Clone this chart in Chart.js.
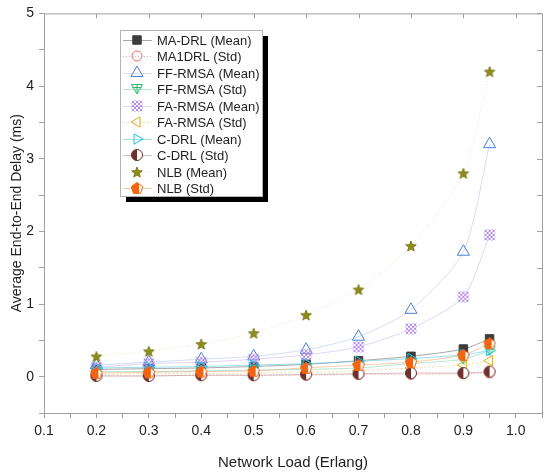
<!DOCTYPE html>
<html>
<head>
<meta charset="utf-8">
<script src="https://cdn.jsdelivr.net/npm/chart.js@4.4.1/dist/chart.umd.min.js"></script>
<style>
  html, body { margin: 0; padding: 0; background: #fff; }
  #wrap { width: 550px; height: 472px; }
</style>
</head>
<body>
<div id="wrap"><canvas id="delayChart" width="550" height="472"></canvas></div>
<script>
// network load values on the x axis
const loads = [0.2, 0.3, 0.4, 0.5, 0.6, 0.7, 0.8, 0.9, 0.95];

// delay (ms)
const maDrlMean = [0.10, 0.11, 0.12, 0.14, 0.17, 0.22, 0.28, 0.38, 0.52];
const ma1DrlStd = [0.01, 0.01, 0.02, 0.02, 0.02, 0.03, 0.03, 0.04, 0.05];
const ffMean    = [0.16, 0.20, 0.24, 0.28, 0.37, 0.55, 0.92, 1.72, 3.20];
const ffStd     = [0.07, 0.07, 0.08, 0.09, 0.10, 0.12, 0.18, 0.24, 0.36];
const faMean    = [0.13, 0.18, 0.20, 0.24, 0.30, 0.41, 0.66, 1.10, 1.95];
const faStd     = [0.03, 0.04, 0.04, 0.05, 0.06, 0.08, 0.12, 0.16, 0.22];
const cDrlMean  = [0.12, 0.13, 0.14, 0.16, 0.18, 0.21, 0.25, 0.30, 0.36];
const cDrlStd   = [0.01, 0.01, 0.02, 0.02, 0.03, 0.04, 0.05, 0.05, 0.07];
const nlbMean   = [0.28, 0.35, 0.45, 0.60, 0.85, 1.20, 1.80, 2.80, 4.20];
const nlbStd    = [0.05, 0.06, 0.07, 0.08, 0.12, 0.16, 0.20, 0.30, 0.46];

const seriesLabels = [
  'MA-DRL (Mean)', 'MA1DRL (Std)', 'FF-RMSA (Mean)', 'FF-RMSA (Std)', 'FA-RMSA (Mean)',
  'FA-RMSA (Std)', 'C-DRL (Mean)', 'C-DRL (Std)', 'NLB (Mean)', 'NLB (Std)'
];

const FONT = '"Liberation Sans", Arial, sans-serif';
Chart.defaults.font.family = FONT;

// small canvases used as marker shapes
function makeMarker(draw) {
  const c = document.createElement('canvas');
  c.width = 14;
  c.height = 14;
  draw(c.getContext('2d'));
  return c;
}

const starMarker = makeMarker(g => {
  g.beginPath();
  for (let i = 0; i < 10; i++) {
    const a = -Math.PI / 2 + i * Math.PI / 5;
    const r = i % 2 ? 2.4 : 5.6;
    g.lineTo(7 + r * Math.cos(a), 7.6 + r * Math.sin(a));
  }
  g.closePath();
  g.fillStyle = '#8e8e1c';
  g.fill();
  g.strokeStyle = '#6c6c08';
  g.lineWidth = 0.8;
  g.stroke();
});

const pentagonMarker = makeMarker(g => {
  g.beginPath();
  for (let i = 0; i < 5; i++) {
    const a = -Math.PI / 2 + i * 2 * Math.PI / 5;
    g.lineTo(7 + 6 * Math.cos(a), 7.5 + 6 * Math.sin(a));
  }
  g.closePath();
  g.fillStyle = '#fff';
  g.fill();
  g.save();
  g.clip();
  g.fillStyle = '#f2640f';
  g.fillRect(0, 0, 9, 14);
  g.restore();
  g.strokeStyle = '#f2640f';
  g.lineWidth = 1;
  g.stroke();
});

const halfCircleMarker = makeMarker(g => {
  g.beginPath();
  g.arc(7, 7, 5.5, 0, Math.PI * 2);
  g.fillStyle = '#fff';
  g.fill();
  g.beginPath();
  g.arc(7, 7, 5.5, Math.PI / 2, Math.PI * 1.5);
  g.closePath();
  g.fillStyle = '#6e3030';
  g.fill();
  g.beginPath();
  g.arc(7, 7, 5.5, 0, Math.PI * 2);
  g.strokeStyle = '#6e3030';
  g.lineWidth = 1;
  g.stroke();
});

const hatchMarker = makeMarker(g => {
  g.save();
  g.beginPath();
  g.rect(1.5, 1.5, 11, 11);
  g.clip();
  g.strokeStyle = '#b48ce8';
  g.lineWidth = 1;
  for (let k = -8; k <= 8; k += 4) {
    g.beginPath();
    g.moveTo(1, 1 + k);
    g.lineTo(13, 13 + k);
    g.moveTo(1, 13 + k);
    g.lineTo(13, 1 + k);
    g.stroke();
  }
  g.restore();
});

const downTriMarker = makeMarker(g => {
  g.strokeStyle = '#2fb874';
  g.lineWidth = 1;
  g.beginPath();
  g.moveTo(1.5, 2.5);
  g.lineTo(12.5, 2.5);
  g.lineTo(7, 12);
  g.closePath();
  g.moveTo(7, 2.5);
  g.lineTo(7, 12);
  g.moveTo(2.5, 5.5);
  g.lineTo(11.5, 5.5);
  g.stroke();
});

function series(i, data, style) {
  return Object.assign({
    label: seriesLabels[i],
    data: data.map((v, k) => ({ x: loads[k], y: v })),
    borderWidth: 1,
    pointRadius: 6,
    pointBorderWidth: 1,
    pointBackgroundColor: 'rgba(255,255,255,0)',
    fill: false,
    tension: 0.25,
    order: 10 - i
  }, style);
}

const datasets = [
  series(0, maDrlMean, { borderColor: 'rgba(130,130,130,0.7)', pointStyle: 'rect', pointRadius: 6,
    pointBackgroundColor: '#3c3c3c', pointBorderColor: '#3c3c3c' }),
  series(1, ma1DrlStd, { borderColor: 'rgba(235,110,110,0.6)', borderDash: [1, 2], pointStyle: 'circle',
    pointRadius: 5, pointBorderColor: '#eb6a6a' }),
  series(2, ffMean, { borderColor: 'rgba(160,180,230,0.45)', pointStyle: 'triangle', pointRadius: 7,
    pointBorderColor: '#4a80dc' }),
  series(3, ffStd, { borderColor: 'rgba(90,200,150,0.45)', pointStyle: downTriMarker, pointBorderColor: '#2fb874' }),
  series(4, faMean, { borderColor: 'rgba(195,170,235,0.5)', pointStyle: hatchMarker, pointBorderColor: '#b48ce8' }),
  series(5, faStd, { borderColor: 'rgba(230,190,80,0.5)', borderDash: [2, 2], pointStyle: 'triangle',
    pointRotation: -90, pointRadius: 6, pointBorderColor: '#e0ac28' }),
  series(6, cDrlMean, { borderColor: 'rgba(90,200,230,0.6)', pointStyle: 'triangle', pointRotation: 90,
    pointRadius: 6, pointBorderColor: '#22c4e0' }),
  series(7, cDrlStd, { borderColor: 'rgba(160,110,110,0.45)', pointStyle: halfCircleMarker, pointBorderColor: '#6e3030' }),
  series(8, nlbMean, { borderColor: 'rgba(215,212,165,0.55)', borderDash: [1, 2], pointStyle: starMarker,
    pointBorderColor: '#8e8e1c' }),
  series(9, nlbStd, { borderColor: 'rgba(240,140,80,0.45)', pointStyle: pentagonMarker, pointBorderColor: '#f2640f' })
];

// box legend with a black drop shadow, inside the plot
const legendBox = {
  id: 'legendBox',
  afterDatasetsDraw(chart) {
    const ctx = chart.ctx;
    const x = 120, y = 30, w = 142, h = 166;
    ctx.save();
    ctx.fillStyle = '#000';
    ctx.fillRect(x + 6, y + 6, w, h);
    ctx.fillStyle = '#fff';
    ctx.fillRect(x, y, w, h);
    ctx.strokeStyle = '#b4b4b4';
    ctx.lineWidth = 1;
    ctx.strokeRect(x + 0.5, y + 0.5, w, h);
    ctx.font = '13px ' + FONT;
    ctx.textBaseline = 'middle';
    chart.data.datasets.forEach((ds, i) => {
      const cy = Math.round(y + 10 + i * 16.45);
      ctx.strokeStyle = ds.borderColor;
      ctx.lineWidth = 1;
      ctx.setLineDash(ds.borderDash || []);
      ctx.beginPath();
      ctx.moveTo(123, cy + 0.5);
      ctx.lineTo(152, cy + 0.5);
      ctx.stroke();
      ctx.setLineDash([]);
      ctx.fillStyle = ds.pointBackgroundColor;
      ctx.strokeStyle = ds.pointBorderColor;
      Chart.helpers.drawPoint(ctx, {
        pointStyle: ds.pointStyle,
        radius: ds.pointRadius,
        rotation: ds.pointRotation || 0,
        borderWidth: ds.pointBorderWidth
      }, 137, cy);
      ctx.fillStyle = '#1e1e1e';
      ctx.fillText(ds.label, 157, cy + 1);
    });
    ctx.restore();
  }
};

// top/right frame with inward ticks, positions from the scales
const frame = {
  id: 'frame',
  afterDraw(chart) {
    const { ctx, chartArea: a, scales } = chart;
    ctx.save();
    ctx.strokeStyle = '#a0a0a0';
    ctx.lineWidth = 1;
    ctx.beginPath();
    ctx.moveTo(a.left, a.top + 0.5);
    ctx.lineTo(a.right + 0.5, a.top + 0.5);
    ctx.lineTo(a.right + 0.5, a.bottom);
    scales.x.ticks.forEach(t => {
      if (Math.round(t.value * 100) % 10 !== 0) return;
      const px = Math.round(scales.x.getPixelForValue(t.value)) + 0.5;
      ctx.moveTo(px, a.top);
      ctx.lineTo(px, a.top + 5);
    });
    scales.y.ticks.forEach(t => {
      const py = Math.round(scales.y.getPixelForValue(t.value)) + 0.5;
      ctx.moveTo(a.right, py);
      ctx.lineTo(a.right - 5, py);
    });
    ctx.stroke();
    ctx.restore();
  }
};

new Chart(document.getElementById('delayChart'), {
  type: 'line',
  data: { datasets: datasets },
  options: {
    responsive: false,
    animation: false,
    devicePixelRatio: 1,
    layout: { padding: { left: 0, top: 13, right: 6, bottom: 0 } },
    scales: {
      x: {
        type: 'linear',
        min: 0.1,
        max: 1.05,
        ticks: {
          stepSize: 0.05,
          autoSkip: false,
          maxRotation: 0,
          color: '#1e1e1e',
          font: { size: 14 },
          padding: 5,
          callback: v => Math.round(v * 100) % 10 === 0 ? v.toFixed(1) : ''
        },
        grid: { drawOnChartArea: false, tickLength: 5, color: '#a0a0a0' },
        border: { color: '#a0a0a0' },
        title: {
          display: true,
          text: 'Network Load (Erlang)',
          color: '#1e1e1e',
          font: { size: 15 },
          padding: { top: 3, bottom: 0 }
        },
        afterFit: s => { s.height = 59; }
      },
      y: {
        min: -0.5,
        max: 5,
        ticks: {
          stepSize: 0.5,
          autoSkip: false,
          color: '#1e1e1e',
          font: { size: 14 },
          padding: 5,
          callback: v => (Number.isInteger(v) && v >= 0) ? v : ''
        },
        grid: { drawOnChartArea: false, tickLength: 5, color: '#a0a0a0' },
        border: { color: '#a0a0a0' },
        title: {
          display: true,
          text: 'Average End-to-End Delay (ms)',
          color: '#1e1e1e',
          font: { size: 14 },
          padding: { top: 9, bottom: 0 }
        },
        afterFit: s => { s.width = 44; }
      }
    },
    plugins: {
      legend: { display: false },
      tooltip: { enabled: false }
    }
  },
  plugins: [legendBox, frame]
});
</script>
</body>
</html>
